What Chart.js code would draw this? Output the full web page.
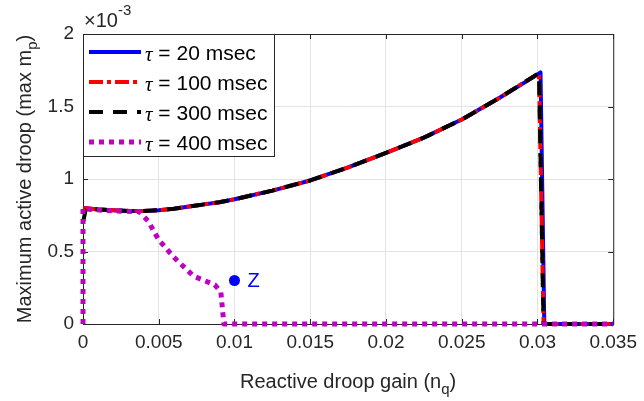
<!DOCTYPE html>
<html>
<head>
<meta charset="utf-8">
<script src="https://cdn.jsdelivr.net/npm/chart.js@4.4.1/dist/chart.umd.min.js"></script>
<style>
  html, body { margin: 0; padding: 0; background: #fff; }
  #wrap { width: 644px; height: 401px; }
</style>
</head>
<body>
<div id="wrap"><canvas id="c" width="644" height="401"></canvas></div>
<script>
// ---------- Data (y values in units of 1e-3) ----------
const gainBlue  = [0, 0.001, 0.002, 0.003, 0.004, 0.005, 0.006, 0.007, 0.008, 0.009, 0.010, 0.0125, 0.015, 0.0175, 0.020, 0.0225, 0.025, 0.0275, 0.030, 0.0302, 0.03045, 0.035];
const droopBlue = [0.80, 0.79, 0.785, 0.78, 0.78, 0.785, 0.795, 0.81, 0.825, 0.84, 0.86, 0.92, 0.99, 1.08, 1.18, 1.285, 1.41, 1.56, 1.72, 1.735, 0, 0];

const gainRed  = [0, 0.001, 0.002, 0.003, 0.004, 0.005, 0.006, 0.007, 0.008, 0.009, 0.010, 0.0125, 0.015, 0.0175, 0.020, 0.0225, 0.025, 0.0275, 0.0301, 0.0304, 0.035];
const droopRed = [0.80, 0.79, 0.785, 0.78, 0.78, 0.785, 0.795, 0.81, 0.825, 0.84, 0.86, 0.92, 0.99, 1.08, 1.18, 1.285, 1.41, 1.56, 1.73, 0, 0];

const gainBlack  = [0, 0.0002, 0.001, 0.002, 0.003, 0.004, 0.005, 0.006, 0.007, 0.008, 0.009, 0.010, 0.0125, 0.015, 0.0175, 0.020, 0.0225, 0.025, 0.0275, 0.0301, 0.0304, 0.035];
const droopBlack = [0.70, 0.80, 0.79, 0.785, 0.78, 0.78, 0.785, 0.795, 0.81, 0.825, 0.84, 0.86, 0.92, 0.99, 1.08, 1.18, 1.285, 1.41, 1.56, 1.73, 0, 0];

const gainMag  = [0, 0, 0.0005, 0.002, 0.0037, 0.0043, 0.005, 0.006, 0.0073, 0.0087, 0.0091, 0.0093, 0.035];
const droopMag = [0, 0.80, 0.79, 0.78, 0.775, 0.71, 0.58, 0.46, 0.33, 0.27, 0.22, 0, 0];

const pointZ = { gain: 0.010, droop: 0.30, label: "Z" };

const seriesNames = ["20 msec", "100 msec", "300 msec", "400 msec"];
const xTicks = [0, 0.005, 0.01, 0.015, 0.02, 0.025, 0.03, 0.035];
const yTicks = [0, 0.5, 1, 1.5, 2];

// ---------- Styling ----------
const AX = "#262626";
const FONT = "'Liberation Sans', Arial, Helvetica, sans-serif";
const TICK_PX = 19;
const LABEL_PX = 20;

function pts(xs, ys) { return xs.map((x, i) => ({ x: x, y: ys[i] })); }

const datasets = [
  { label: seriesNames[0], data: pts(gainBlue, droopBlue), borderColor: "#0000ff", borderWidth: 4, borderDash: [], order: 4 },
  { label: seriesNames[1], data: pts(gainRed, droopRed), borderColor: "#ff0000", borderWidth: 4, borderDash: [14, 4, 4, 4], order: 3 },
  { label: seriesNames[2], data: pts(gainBlack, droopBlack), borderColor: "#000000", borderWidth: 4, borderDash: [14, 10], order: 2 },
  { label: seriesNames[3], data: pts(gainMag, droopMag), borderColor: "#c000c0", borderWidth: 5, borderDash: [5, 5], order: 1 },
  { label: "Z", data: [{ x: pointZ.gain, y: pointZ.droop }], showLine: false, pointRadius: 5.5,
    pointBackgroundColor: "#0000ff", pointBorderWidth: 0, order: 0 }
];
datasets.forEach((d, i) => {
  d.fill = false;
  d.tension = 0;
  d.clip = 6;
  if (i < 4) { d.pointRadius = 0; d.showLine = true; d.borderCapStyle = "butt"; d.borderJoinStyle = "round"; }
});

// ---------- Frame, ticks, texts, legend ----------
const overlay = {
  id: "overlay",
  beforeDatasetsDraw(chart) {
    const { ctx, chartArea: a, scales: { x, y } } = chart;
    ctx.save();
    ctx.strokeStyle = AX;
    ctx.lineWidth = 1;
    ctx.strokeRect(a.left + 0.5, a.top + 0.5, a.right - a.left, a.bottom - a.top);
    ctx.beginPath();
    xTicks.forEach(v => {
      const px = Math.round(x.getPixelForValue(v)) + 0.5;
      ctx.moveTo(px, a.bottom); ctx.lineTo(px, a.bottom - 5);
      ctx.moveTo(px, a.top); ctx.lineTo(px, a.top + 5);
    });
    yTicks.forEach(v => {
      const py = Math.round(y.getPixelForValue(v)) + 0.5;
      ctx.moveTo(a.left, py); ctx.lineTo(a.left + 5, py);
      ctx.moveTo(a.right, py); ctx.lineTo(a.right - 5, py);
    });
    ctx.stroke();
    ctx.restore();
  },
  afterDraw(chart) {
    const { ctx, chartArea: a, scales: { x, y } } = chart;
    ctx.save();
    ctx.fillStyle = AX;
    ctx.textBaseline = "alphabetic";

    // x axis title with subscript
    const xt1 = "Reactive droop gain (n", xsub = "q", xt2 = ")";
    ctx.font = LABEL_PX + "px " + FONT;
    const w1 = ctx.measureText(xt1).width, w3 = ctx.measureText(xt2).width;
    ctx.font = "15px " + FONT;
    const w2 = ctx.measureText(xsub).width;
    let sx = (a.left + a.right) / 2 - (w1 + w2 + w3) / 2;
    const by = 388;
    ctx.textAlign = "left";
    ctx.font = LABEL_PX + "px " + FONT;
    ctx.fillText(xt1, sx, by);
    ctx.font = "15px " + FONT;
    ctx.fillText(xsub, sx + w1, by + 6);
    ctx.font = LABEL_PX + "px " + FONT;
    ctx.fillText(xt2, sx + w1 + w2, by);

    // y axis title, rotated
    const yt1 = "Maximum active droop (max m", ysub = "p", yt2 = ")";
    ctx.translate(31, (a.top + a.bottom) / 2);
    ctx.rotate(-Math.PI / 2);
    ctx.font = LABEL_PX + "px " + FONT;
    const v1 = ctx.measureText(yt1).width, v3 = ctx.measureText(yt2).width;
    ctx.font = "15px " + FONT;
    const v2 = ctx.measureText(ysub).width;
    sx = -(v1 + v2 + v3) / 2;
    ctx.font = LABEL_PX + "px " + FONT;
    ctx.fillText(yt1, sx, 0);
    ctx.font = "15px " + FONT;
    ctx.fillText(ysub, sx + v1, 6);
    ctx.font = LABEL_PX + "px " + FONT;
    ctx.fillText(yt2, sx + v1 + v2, 0);
    ctx.setTransform(1, 0, 0, 1, 0, 0);

    // exponent label
    ctx.font = "20px " + FONT;
    ctx.fillText("\u00d710", a.left + 1, a.top - 7);
    const ew = ctx.measureText("\u00d710").width;
    ctx.font = "15px " + FONT;
    ctx.fillText("-3", a.left + 1 + ew, a.top - 19);

    // Z label
    ctx.fillStyle = "#0000ff";
    ctx.font = "20px " + FONT;
    ctx.textBaseline = "middle";
    ctx.fillText(pointZ.label, x.getPixelForValue(pointZ.gain) + 13, y.getPixelForValue(pointZ.droop) + 1);

    // legend
    const lx = a.left, ly = a.top, lw = 191, lh = 122;
    ctx.fillStyle = "#fff";
    ctx.fillRect(lx, ly, lw, lh);
    ctx.strokeStyle = AX;
    ctx.lineWidth = 1;
    ctx.strokeRect(lx + 0.5, ly + 0.5, lw, lh);
    for (let i = 0; i < 4; i++) {
      const ds = chart.data.datasets[i];
      const ry = ly + 18 + i * 30;
      ctx.beginPath();
      ctx.strokeStyle = ds.borderColor;
      ctx.lineWidth = ds.borderWidth;
      ctx.setLineDash(ds.borderDash);
      ctx.lineCap = "butt";
      ctx.moveTo(lx + 6, ry);
      ctx.lineTo(lx + 58, ry);
      ctx.stroke();
      ctx.setLineDash([]);
      ctx.fillStyle = "#000";
      ctx.textBaseline = "middle";
      ctx.font = "italic 21px 'Liberation Serif', 'Times New Roman', serif";
      ctx.fillText("\u03c4", lx + 62, ry + 3);
      const tw = ctx.measureText("\u03c4").width;
      ctx.font = "21px " + FONT;
      ctx.fillText(" = " + ds.label, lx + 62 + tw, ry + 2);
    }
    ctx.restore();
  }
};

new Chart(document.getElementById("c"), {
  type: "scatter",
  data: { datasets: datasets },
  options: {
    responsive: false,
    animation: false,
    events: [],
    layout: { padding: { top: 34, right: 26, bottom: 0, left: 0 } },
    plugins: { legend: { display: false }, tooltip: { enabled: false } },
    scales: {
      x: {
        type: "linear", min: 0, max: 0.035,
        afterBuildTicks: s => { s.ticks = xTicks.map(v => ({ value: v })); },
        afterFit: s => { s.height = 77; },
        grid: { color: "#e3e3e3", drawTicks: false },
        border: { display: false },
        ticks: { color: AX, font: { family: FONT, size: TICK_PX }, padding: 7, maxRotation: 0,
                 callback: v => String(Number(v.toFixed(4))) }
      },
      y: {
        type: "linear", min: 0, max: 2,
        afterBuildTicks: s => { s.ticks = yTicks.map(v => ({ value: v })); },
        afterFit: s => { s.width = 83; },
        grid: { color: "#e3e3e3", drawTicks: false },
        border: { display: false },
        ticks: { color: AX, font: { family: FONT, size: TICK_PX }, padding: 9,
                 callback: v => String(v) }
      }
    }
  },
  plugins: [overlay]
});
</script>
</body>
</html>
